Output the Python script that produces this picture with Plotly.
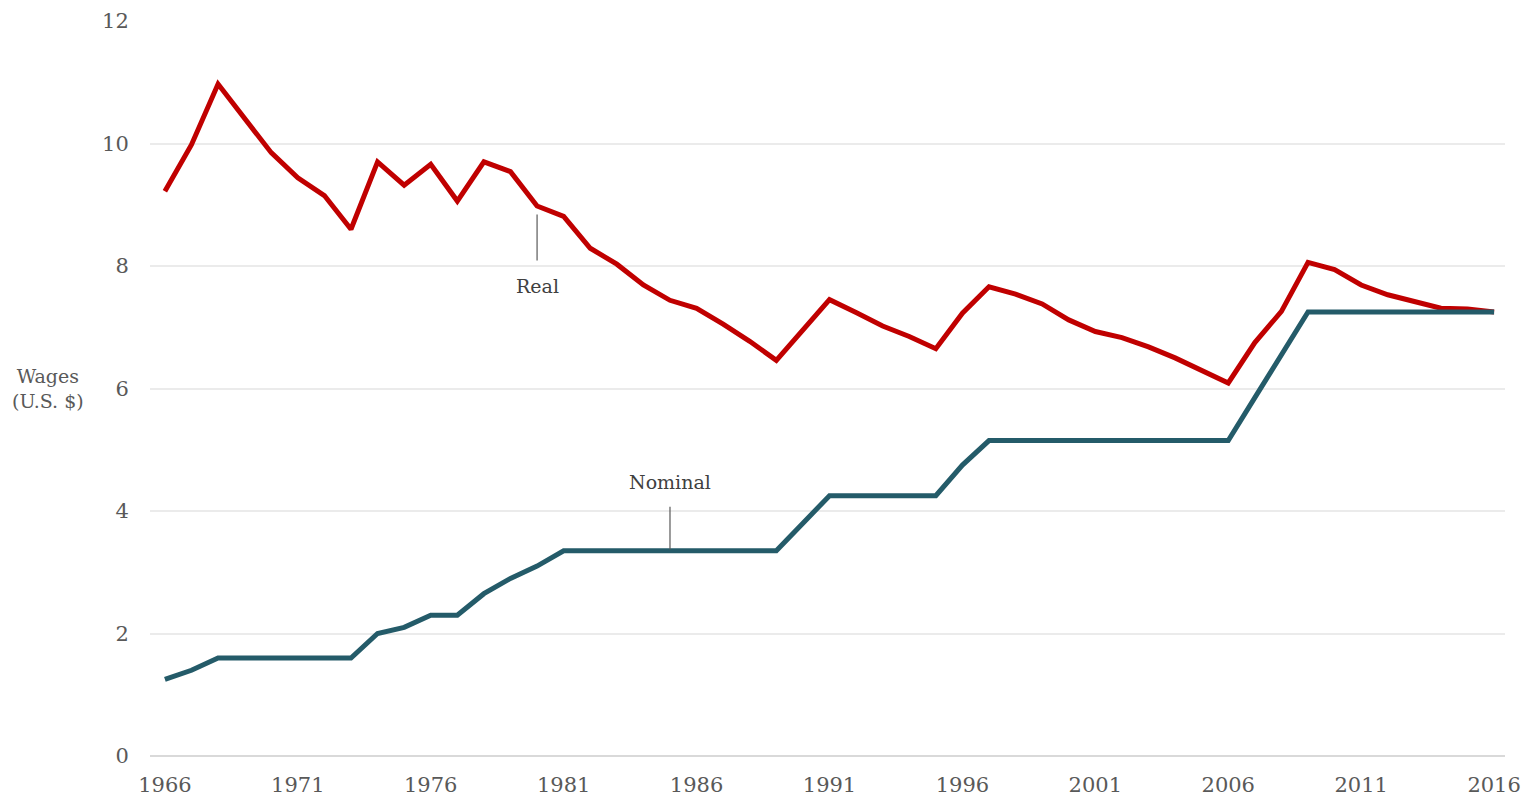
import plotly.graph_objects as go

years = list(range(1966, 2017))

nominal = [1.25, 1.40, 1.60, 1.60, 1.60, 1.60, 1.60, 1.60, 2.00, 2.10,
           2.30, 2.30, 2.65, 2.90, 3.10, 3.35, 3.35, 3.35, 3.35, 3.35,
           3.35, 3.35, 3.35, 3.35, 3.80, 4.25, 4.25, 4.25, 4.25, 4.25,
           4.75, 5.15, 5.15, 5.15, 5.15, 5.15, 5.15, 5.15, 5.15, 5.15,
           5.15, 5.85, 6.55, 7.25, 7.25, 7.25, 7.25, 7.25, 7.25, 7.25, 7.25]

real = [9.22, 9.98, 10.97, 10.42, 9.85, 9.44, 9.15, 8.60, 9.70, 9.32,
        9.66, 9.06, 9.70, 9.54, 8.98, 8.81, 8.29, 8.03, 7.69, 7.44,
        7.31, 7.05, 6.77, 6.46, 6.96, 7.45, 7.24, 7.02, 6.85, 6.65,
        7.23, 7.66, 7.54, 7.38, 7.12, 6.93, 6.83, 6.68, 6.50, 6.29,
        6.09, 6.75, 7.26, 8.06, 7.94, 7.69, 7.53, 7.42, 7.31, 7.30, 7.25]

x_ticks = list(range(1966, 2017, 5))
y_ticks = [0, 2, 4, 6, 8, 10, 12]

FONT = "DejaVu Serif"
GREY = "#595959"

fig = go.Figure()
fig.add_trace(go.Scatter(x=years, y=real, mode="lines", name="Real",
                         line=dict(color="#C00000", width=5)))
fig.add_trace(go.Scatter(x=years, y=nominal, mode="lines", name="Nominal",
                         line=dict(color="#245B69", width=5)))

# leader lines
fig.add_shape(type="line", x0=1980, x1=1980, y0=8.84, y1=8.09,
              line=dict(color="#595959", width=1.2))
fig.add_shape(type="line", x0=1985, x1=1985, y0=4.07, y1=3.37,
              line=dict(color="#595959", width=1.2))

fig.add_annotation(x=1980, y=7.68, text="Real", showarrow=False,
                   xanchor="center", yanchor="middle",
                   font=dict(family=FONT, size=19, color="#404040"))
fig.add_annotation(x=1985, y=4.48, text="Nominal", showarrow=False,
                   xanchor="center", yanchor="middle",
                   font=dict(family=FONT, size=19, color="#404040"))
fig.add_annotation(xref="paper", yref="y", x=-0.0753, y=6,
                   text="Wages<br>(U.S. $)", showarrow=False,
                   xanchor="center", yanchor="middle",
                   font=dict(family=FONT, size=19, color=GREY), align="center")

fig.update_layout(
    width=1529, height=795,
    margin=dict(l=142, r=32, t=13, b=47),
    plot_bgcolor="white", paper_bgcolor="white",
    showlegend=False,
    font=dict(family=FONT, size=21, color=GREY),
)
fig.update_xaxes(range=[1965.44, 2016.41], tickvals=x_ticks,
                 ticktext=[str(v) for v in x_ticks],
                 showgrid=False, zeroline=False, showline=False,
                 automargin=False, ticklabeloverflow="allow",
                 ticks="outside", ticklen=10, tickcolor="rgba(0,0,0,0)",
                 tickfont=dict(family=FONT, size=21, color=GREY))
fig.update_yaxes(range=[0, 12], tickvals=y_ticks,
                 showgrid=True, gridcolor="#EBEBEB", gridwidth=1.5,
                 zeroline=True, zerolinecolor="#D9D9D9", zerolinewidth=1.5,
                 showline=False, automargin=False, ticklabeloverflow="allow",
                 ticks="outside", ticklen=16, tickcolor="rgba(0,0,0,0)",
                 tickfont=dict(family=FONT, size=21, color=GREY))

fig.write_html("out.html")
